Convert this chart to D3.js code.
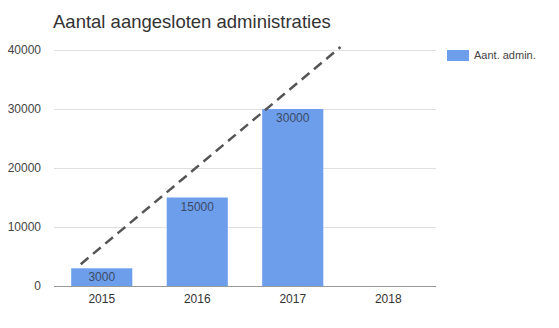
<!DOCTYPE html>
<html><head><meta charset="utf-8">
<script src="https://cdn.jsdelivr.net/npm/d3@7"></script>
<style>body{margin:0;background:#fff}svg{display:block}</style>
</head><body>
<script>
const title = "Aantal aangesloten administraties";
const categories = ["2015", "2016", "2017", "2018"];
const values = [3000, 15000, 30000, null];
const seriesName = "Aant. admin.";
const yTicks = [0, 10000, 20000, 30000, 40000];
// trendline endpoints (x in category-index units)
const trendX = [-0.22, 2.5];
const trendY = [3700, 40500];

const W = 559, H = 328;
const m = {left: 54, right: 123, top: 50, bottom: 42};
const svg = d3.select("body").append("svg").attr("width", W).attr("height", H)
  .style("font-family", "Arial, 'Liberation Sans', sans-serif");

const x = d3.scaleBand().domain(categories).range([m.left, W - m.right]).paddingInner(0.36).paddingOuter(0.18);
const y = d3.scaleLinear().domain([0, 40000]).range([H - m.bottom, m.top]);
const step = x.step();
const xc = i => m.left + step * (i + 0.5);

// gridlines
svg.append("g").selectAll("line").data(yTicks.filter(d => d > 0)).join("line")
  .attr("x1", m.left).attr("x2", W - m.right)
  .attr("y1", d => y(d)).attr("y2", d => y(d))
  .attr("stroke", "#e0e0e0").attr("stroke-width", 1).attr("shape-rendering", "crispEdges");

// y tick labels
svg.append("g").selectAll("text").data(yTicks).join("text")
  .attr("x", 41).attr("y", d => y(d)).attr("dy", "0.35em")
  .attr("text-anchor", "end").attr("font-size", 12).attr("fill", "#444")
  .text(d => d);

// bars
const bd = categories.map((c, i) => ({c, v: values[i]})).filter(d => d.v != null);
svg.append("g").selectAll("rect").data(bd).join("rect")
  .attr("x", d => x(d.c)).attr("width", x.bandwidth())
  .attr("y", d => y(d.v)).attr("height", d => y(0) - y(d.v))
  .attr("fill", "#6d9eeb");

// bar labels
svg.append("g").selectAll("text").data(bd).join("text")
  .attr("x", d => x(d.c) + x.bandwidth() / 2).attr("y", d => y(d.v) + 13)
  .attr("text-anchor", "middle").attr("font-size", 12).attr("fill", "#3c4a66")
  .text(d => d.v);

// baseline
svg.append("line").attr("x1", m.left).attr("x2", W - m.right)
  .attr("y1", y(0)).attr("y2", y(0)).attr("stroke", "#999").attr("shape-rendering", "crispEdges");

// x labels
svg.append("g").selectAll("text").data(categories).join("text")
  .attr("x", d => x(d) + x.bandwidth() / 2).attr("y", 303)
  .attr("text-anchor", "middle").attr("font-size", 12).attr("fill", "#333")
  .text(d => d);

// trendline
svg.append("path")
  .datum(trendX.map((t, i) => [xc(t), y(trendY[i])]))
  .attr("d", d3.line())
  .attr("fill", "none").attr("stroke", "#555").attr("stroke-width", 2.5)
  .attr("stroke-dasharray", "10,6");

// title
svg.append("text").attr("x", 53).attr("y", 28).attr("font-size", 18.5).attr("fill", "#333").text(title);

// legend
svg.append("rect").attr("x", 447).attr("y", 50).attr("width", 22).attr("height", 11).attr("fill", "#6d9eeb");
svg.append("text").attr("x", 474).attr("y", 55.5).attr("dy", "0.35em").attr("font-size", 11).attr("fill", "#444").text(seriesName);
</script>
</body></html>
